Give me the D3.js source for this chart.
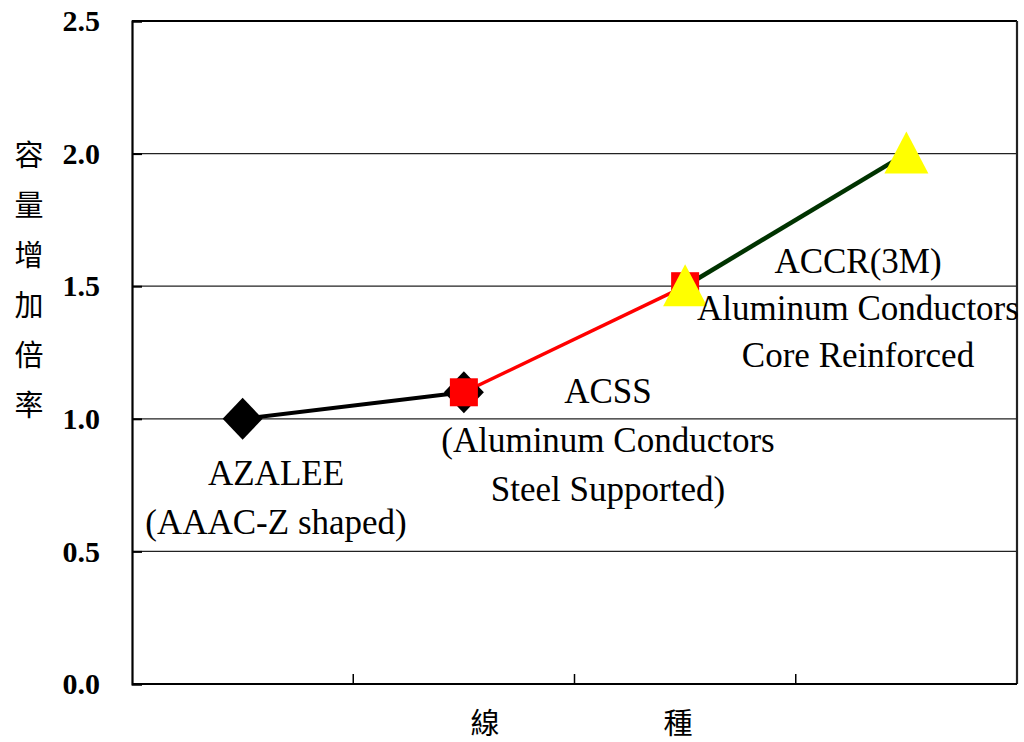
<!DOCTYPE html>
<html><head><meta charset="utf-8">
<script src="https://cdn.jsdelivr.net/npm/d3@7"></script>
<style>body{margin:0;background:#fff}svg{display:block}</style>
</head><body>
<svg id="c" width="1024" height="742"></svg>
<script>
const categories = ["AZALEE", "ACSS", "ACCR", "next"];
const yTicks = [0, 0.5, 1.0, 1.5, 2.0, 2.5];
const seriesAZALEE = [{cat:"AZALEE", v:1.0}, {cat:"ACSS", v:1.1}];
const seriesACSS = [{cat:"ACSS", v:1.1}, {cat:"ACCR", v:1.5}];
const seriesACCR = [{cat:"ACCR", v:1.5}, {cat:"next", v:2.0}];
const labelsAZALEE = ["AZALEE", "(AAAC-Z shaped)"];
const labelsACSS = ["ACSS", "(Aluminum Conductors", "Steel Supported)"];
const labelsACCR = ["ACCR(3M)", "Aluminum Conductors", "Core Reinforced"];
const yTitle = ["容","量","增","加","倍","率"];
const xTitle = ["線","種"];

const serif = "'Liberation Serif','Times New Roman',serif";
const svg = d3.select("#c");
const L = 132, R = 1017, T = 21, B = 684;
const x = d3.scaleBand().domain(categories).range([L, R]).padding(0);
const y = d3.scaleLinear().domain([0, 2.5]).range([B, T]);
const cx = c => x(c) + x.bandwidth()/2;

// gridlines
svg.append("g").selectAll("line").data([0.5,1.0,1.5,2.0]).join("line")
  .attr("x1", L).attr("x2", R).attr("y1", d=>y(d)).attr("y2", d=>y(d))
  .attr("stroke", "#222").attr("stroke-width", 1.3);
// border top/right
svg.append("line").attr("x1", L).attr("x2", R).attr("y1", T).attr("y2", T).attr("stroke","#000").attr("stroke-width",2.2);
svg.append("line").attr("x1", R).attr("x2", R).attr("y1", T).attr("y2", B).attr("stroke","#222").attr("stroke-width",2.2);

// y axis
const ya = svg.append("g").attr("transform", `translate(${L},0)`)
  .call(d3.axisLeft(y).tickValues(yTicks).tickFormat(d3.format(".1f")).tickSize(-10).tickPadding(32));
ya.select(".domain").attr("stroke-width", 2.2);
ya.selectAll(".tick line").attr("stroke-width", 2);
ya.selectAll("text").style("font-family", serif).style("font-weight", "bold").style("font-size", "30px").attr("fill","#000");

// x axis
const xa = svg.append("g").attr("transform", `translate(0,${B})`)
  .call(d3.axisBottom(x).tickSize(-10).tickFormat(""));
xa.selectAll(".tick").attr("transform", d => `translate(${x(d)},0)`);
xa.selectAll(".tick").filter(d => d === categories[0]).remove();
xa.select(".domain").attr("stroke-width", 2.2).attr("d", `M${L},0H${R}`);
xa.selectAll(".tick line").attr("stroke-width", 1.5);

const line = d3.line().x(d => cx(d.cat)).y(d => y(d.v));
svg.append("path").datum(seriesAZALEE).attr("d", line).attr("fill","none").attr("stroke","#000").attr("stroke-width",4);
svg.append("path").datum(seriesACSS).attr("d", line).attr("fill","none").attr("stroke","#ff0000").attr("stroke-width",3.5);
svg.append("path").datum(seriesACCR).attr("d", line).attr("fill","none").attr("stroke","#003300").attr("stroke-width",4.5);

// markers
svg.append("g").selectAll("path").data(seriesAZALEE).join("path")
  .attr("transform", d => `translate(${cx(d.cat)},${y(d.v)})`)
  .attr("d", "M0,-21L20,0L0,21L-20,0Z").attr("fill","#000");
svg.append("g").selectAll("rect").data(seriesACSS).join("rect")
  .attr("x", d => cx(d.cat)-14).attr("y", d => y(d.v)-14).attr("width",28).attr("height",28).attr("fill","#ff0000");
svg.append("g").selectAll("path").data(seriesACCR).join("path")
  .attr("transform", d => `translate(${cx(d.cat)},${y(d.v)})`)
  .attr("d", "M0,-22L22,20L-22,20Z").attr("fill","#ffff00");

// annotations
function block(lines, xc, y0, dy){
  svg.append("g").selectAll("text").data(lines).join("text")
    .attr("x", xc).attr("y", (d,i) => y0 + i*dy).attr("text-anchor","middle")
    .style("font-family", serif).style("font-size","35px").attr("fill","#000").text(d=>d);
}
block(labelsAZALEE, 276, 485, 49);
block(labelsACSS, 608, 403, 49);
block(labelsACCR, 858, 273, 47);

// y title
svg.append("g").selectAll("text").data(yTitle).join("text")
  .attr("x", 29).attr("y", (d,i) => 166 + i*50).attr("text-anchor","middle")
  .style("font-family","'Noto Sans CJK TC'").style("font-size","29px").attr("fill","#000").text(d=>d);
// x title
svg.append("g").selectAll("text").data(xTitle).join("text")
  .attr("x", (d,i) => 485 + i*193).attr("y", 734).attr("text-anchor","middle")
  .style("font-family","'Noto Sans CJK TC'").style("font-size","29px").attr("fill","#000").text(d=>d);
</script>
</body></html>
